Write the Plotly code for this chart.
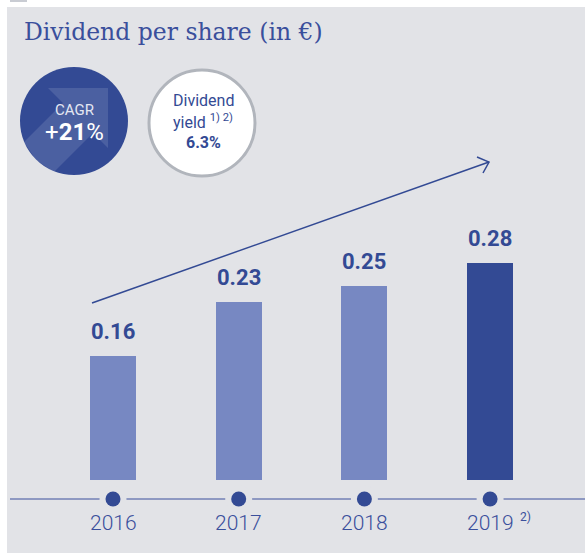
import plotly.graph_objects as go

# ---- data ----
years = ["2016", "2017", "2018", "2019"]
dividends = [0.16, 0.23, 0.25, 0.28]
year_notes = ["", "", "", "2)"]
bar_colors = ["#7788c2", "#7788c2", "#7788c2", "#334a94"]
title_text = "Dividend per share (in €)"
cagr_label = "CAGR"
cagr_value = "21%"
yield_label = "Dividend"
yield_label2 = "yield"
yield_notes = "1) 2)"
yield_value = "6.3%"

W, H = 585, 553
BG = "#e2e3e7"
DARK = "#334a94"
TXT = "#3a4f9c"

def PX(x):
    return x / W

def PY(y):
    return 1 - y / H

# axis scale: value 0 at pixel 480
ZERO_PX = 480
K = 775
y_range = [-(H - ZERO_PX) / K, ZERO_PX / K]
# category centers at 113 + 125.7*i
C0, STEP = 113, 125.7
x_range = [-C0 / STEP, (W - C0) / STEP]
AXIS_PX = 499
axis_val = -(AXIS_PX - ZERO_PX) / K

fig = go.Figure()

fig.add_trace(go.Bar(
    x=years, y=dividends, marker_color=bar_colors, width=46 / STEP,
    marker_line_width=0, hoverinfo="skip", showlegend=False,
))
# timeline dots (gap ring + dot)
fig.add_trace(go.Scatter(
    x=years, y=[axis_val] * len(years), mode="markers",
    marker=dict(size=27, color=BG, line_width=0), hoverinfo="skip", showlegend=False,
))
fig.add_trace(go.Scatter(
    x=years, y=[axis_val] * len(years), mode="markers",
    marker=dict(size=15, color=DARK, line_width=0), hoverinfo="skip", showlegend=False,
))

shapes = []
# gray panel
shapes.append(dict(type="rect", xref="paper", yref="paper", x0=PX(7), x1=PX(W), y0=PY(H), y1=PY(7),
                   fillcolor=BG, line_width=0, layer="below"))
shapes.append(dict(type="rect", xref="paper", yref="paper", x0=PX(10), x1=PX(27), y0=PY(2), y1=PY(0),
                   fillcolor="#c9ccd3", line_width=0, layer="below"))
# timeline line
shapes.append(dict(type="line", xref="paper", yref="y", x0=PX(10), x1=PX(W), y0=axis_val, y1=axis_val,
                   line=dict(color=TXT, width=1), layer="below"))
# growth arrow
shapes.append(dict(type="line", xref="paper", yref="paper", x0=PX(92), y0=PY(303), x1=PX(489), y1=PY(162),
                   line=dict(color=DARK, width=1.5)))
shapes.append(dict(type="path", xref="paper", yref="paper",
                   path=f"M {PX(477)} {PY(157)} L {PX(489)} {PY(162)} L {PX(483)} {PY(173)}",
                   line=dict(color=DARK, width=1.5)))
# CAGR circle
cx, cy, r = 74, 121, 54
shapes.append(dict(type="circle", xref="paper", yref="paper", x0=PX(cx - r), x1=PX(cx + r),
                   y0=PY(cy + r), y1=PY(cy - r), fillcolor=DARK, line_width=0))
arrow_pts = [(48, 88), (108, 88), (108, 148), (93, 133), (54, 172), (36, 160), (24, 142), (63, 103)]
path = "M " + " L ".join(f"{PX(a)} {PY(b)}" for a, b in arrow_pts) + " Z"
shapes.append(dict(type="path", xref="paper", yref="paper", path=path,
                   fillcolor="rgba(255,255,255,0.12)", line_width=0))
# Dividend yield circle
dx, dy, dr = 202, 123, 53
shapes.append(dict(type="circle", xref="paper", yref="paper", x0=PX(dx - dr), x1=PX(dx + dr),
                   y0=PY(dy + dr), y1=PY(dy - dr), fillcolor="white", line=dict(color="#b1b5bc", width=3)))

def pann(text, x, y, size, color, xanchor="center", family="Roboto", **kw):
    return dict(text=text, xref="paper", yref="paper", x=PX(x), y=PY(y), xanchor=xanchor, yanchor="middle",
                showarrow=False, font=dict(family=family, size=size, color=color, **kw))

ann = []
ann.append(pann(title_text, 22, 32, 23.5, TXT, xanchor="left", family="DejaVu Serif"))
# value labels (category index positions)
for i, v in enumerate(dividends):
    ann.append(dict(text=f"<b>{v:.2f}</b>", x=i, y=v, xref="x", yref="y", xanchor="center", yanchor="bottom",
                    yshift=10, showarrow=False, font=dict(family="Roboto", size=22, color=DARK)))
# year labels
for i, (yr, note) in enumerate(zip(years, year_notes)):
    ann.append(dict(text=yr, x=i, xref="x", yref="paper", y=PY(523), xanchor="center", yanchor="middle",
                    showarrow=False, font=dict(family="Roboto", size=21, color=TXT, weight=300)))
    if note:
        ann.append(dict(text=note, x=i, xref="x", yref="paper", y=PY(517), xanchor="left", yanchor="middle",
                        xshift=28, showarrow=False, font=dict(family="Roboto", size=12, color=TXT)))
# CAGR text
ann.append(pann(cagr_label, 74, 110, 15, "#e4e7f2"))
ann.append(pann(f"+<b>{cagr_value[:-1]}</b>{cagr_value[-1]}", 74, 132, 24, "white"))
# yield text
ann.append(pann(yield_label, 203, 100, 16, DARK))
ann.append(pann(f"{yield_label2} <sup>{yield_notes}</sup>", 203, 121, 16, DARK))
ann.append(pann(f"<b>{yield_value}</b>", 203, 142, 16, DARK))

fig.update_layout(
    width=W, height=H, margin=dict(l=0, r=0, t=0, b=0),
    paper_bgcolor="white", plot_bgcolor="rgba(0,0,0,0)",
    xaxis=dict(type="category", range=x_range, visible=False, fixedrange=True),
    yaxis=dict(range=y_range, visible=False, fixedrange=True),
    shapes=shapes, annotations=ann, bargap=0, showlegend=False,
)

fig.write_html("out.html", post_script="document.body.style.margin='0';",
               config={"displayModeBar": False})
